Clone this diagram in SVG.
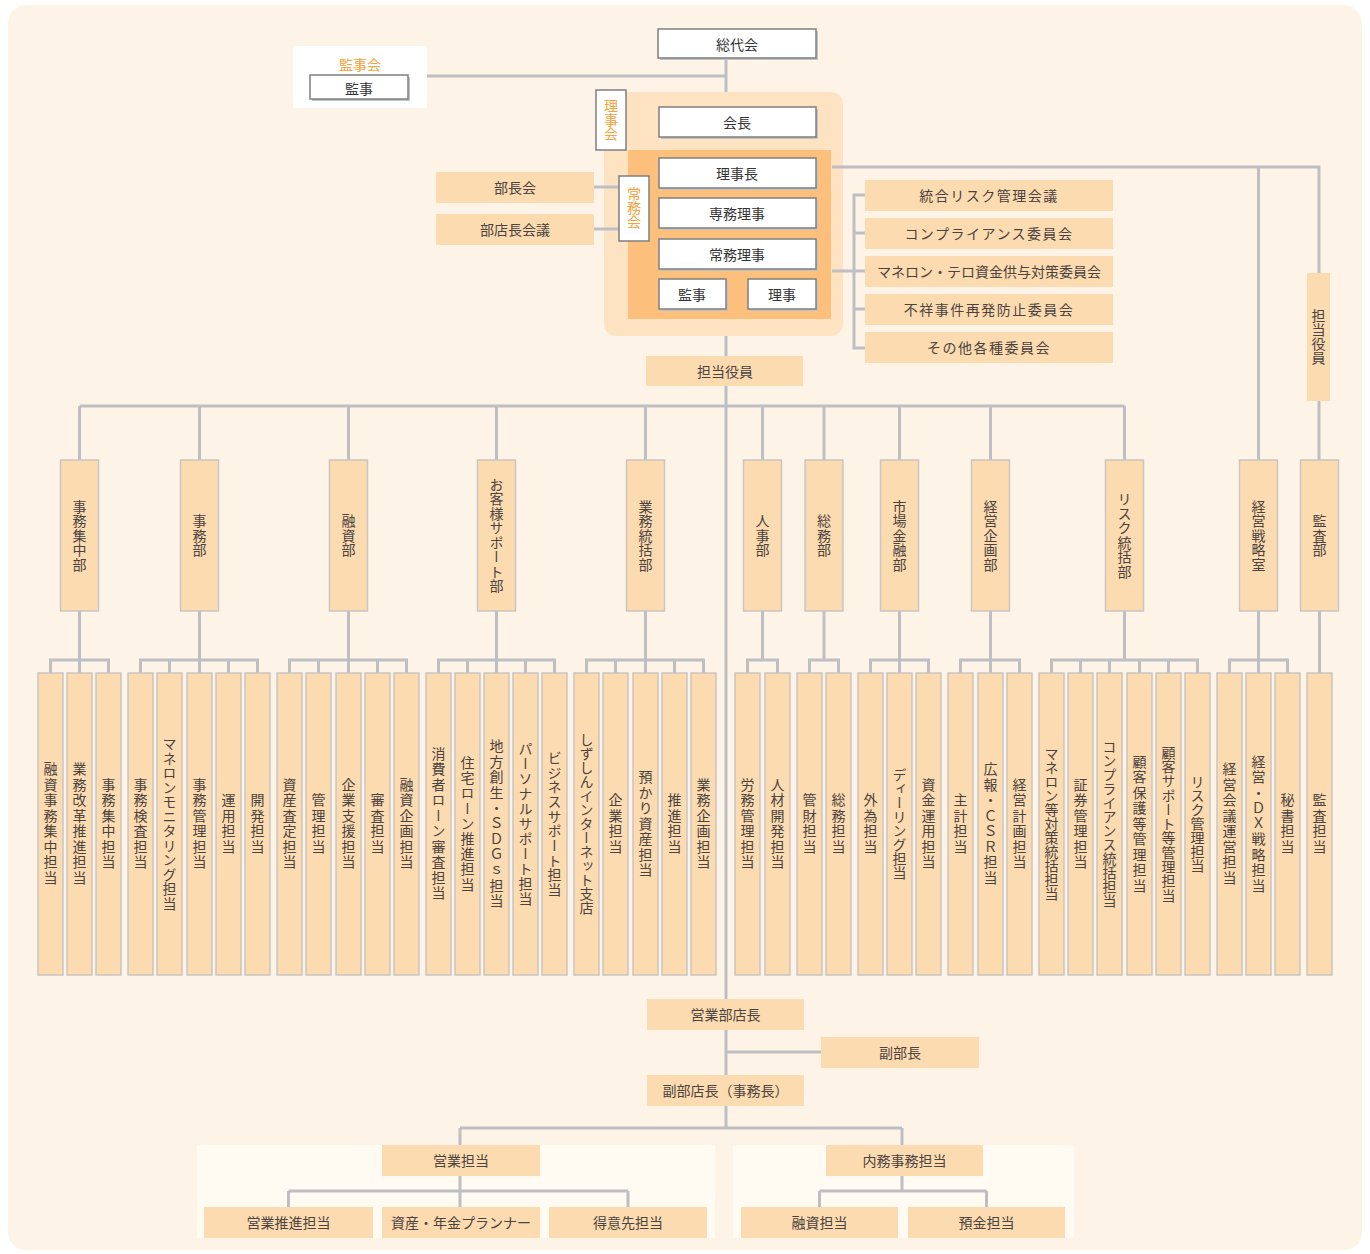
<svg xmlns="http://www.w3.org/2000/svg" width="1370" height="1254" viewBox="0 0 1370 1254">
<style>
.ln{stroke:#bebec3;stroke-width:3;fill:none}
.pk{fill:#fddbb0}
.dp{fill:#fddbb0;stroke:#c9c5c2;stroke-width:1.5}
.wb{fill:#ffffff;stroke:#7f7f7f;stroke-width:1.5}
.sh{fill:#c4c4c4}
.t{font-family:"Noto Sans CJK JP","Noto Sans",sans-serif;font-size:14px;fill:#4a4340;text-anchor:middle;dominant-baseline:central}
.w{fill:#333333}
.o{fill:#f6a23a}
.v{writing-mode:vertical-rl;letter-spacing:1.5px}
.dv{writing-mode:vertical-rl;letter-spacing:0.5px}
</style>
<rect width="1370" height="1254" fill="#ffffff"/>
<rect x="8" y="5" width="1354" height="1245" rx="18" fill="#fdf4e7"/>

<!-- panels -->
<rect x="604" y="92" width="239" height="244" rx="12" fill="#fde3c2"/>
<rect x="628" y="150" width="203" height="169" fill="#fdc07c"/>
<rect x="197" y="1145" width="518" height="93" fill="#fffaf2"/>
<rect x="733" y="1145" width="341" height="93" fill="#fffaf2"/>

<g id="connectors">
<path class="ln" d="M726,58V92M427,76H726M726,336V356M726,386V999M726,1029V1075M726,1052H821M726,1106V1128M460,1128H902M460,1128V1145M902,1128V1145"/>
<path class="ln" d="M460,1176V1191M288.5,1191H628M288.5,1191V1207M460,1191V1207M628,1191V1207M902,1176V1191M819.5,1191H986.5M819.5,1191V1207M986.5,1191V1207"/>
<path class="ln" d="M594,187H619M594,229H619"/>
<path class="ln" d="M832,271H854M866,195H854V348H866M854,233H866M854,271H866M854,309H866"/>
<path class="ln" d="M832,167H1319V273M1258.5,167V460M1319,401V460"/>
<path class="ln" d="M79.5,406H1124.5M79.5,406V460M199.5,406V460M348.5,406V460M496.5,406V460M645.5,406V460M762.5,406V460M824,406V460M899.5,406V460M990.5,406V460M1124.5,406V460"/>
<path class="ln" d="M79.5,611V660M199.5,611V660M348.5,611V660M496.5,611V660M645.5,611V660M762.5,611V660M824,611V660M899.5,611V660M990.5,611V660M1124.5,611V660M1258.5,611V660M1319.5,611V673"/>
<path class="ln" d="M50.5,673V660H108.5V673M79.5,660V673"/>
<path class="ln" d="M140.5,673V660H257.5V673M169.5,660V673M199.5,660V673M228.5,660V673"/>
<path class="ln" d="M289.5,673V660H406.5V673M318.5,660V673M348.5,660V673M377.5,660V673"/>
<path class="ln" d="M438.5,673V660H554.5V673M467.5,660V673M496.5,660V673M525.5,660V673"/>
<path class="ln" d="M586.5,673V660H703.5V673M615.5,660V673M645.5,660V673M674.5,660V673"/>
<path class="ln" d="M747.5,673V660H777.5V673"/>
<path class="ln" d="M809.5,673V660H838.5V673"/>
<path class="ln" d="M870.5,673V660H928.5V673M899.5,660V673"/>
<path class="ln" d="M960.5,673V660H1019.5V673M990.5,660V673"/>
<path class="ln" d="M1051.5,673V660H1197.5V673M1080.5,660V673M1109.5,660V673M1139.5,660V673M1168.5,660V673"/>
<path class="ln" d="M1229.5,673V660H1287.5V673M1258.5,660V673"/>
</g>

<!-- top -->
<g id="soudaikai"><rect class="sh" x="660" y="31" width="158" height="29"/><rect class="wb" x="658" y="29" width="158" height="29"/><text class="t w" x="737" y="44">総代会</text></g>
<g id="kanjikai"><rect x="293" y="46" width="134" height="62" fill="#ffffff"/><text class="t o" x="360" y="64">監事会</text><rect class="sh" x="312" y="77" width="98" height="24"/><rect class="wb" x="310" y="75" width="98" height="24"/><text class="t w" x="359" y="88">監事</text></g>
<g id="rijikai-label"><rect class="wb" x="596" y="90" width="30" height="60" stroke="#9a9a9a"/><text class="t o" x="611" y="120" style="writing-mode:vertical-rl">理事会</text></g>
<g id="kaichou"><rect class="sh" x="661" y="109" width="157" height="30"/><rect class="wb" x="659" y="107" width="157" height="30"/><text class="t w" x="737" y="122">会長</text></g>
<g id="joumukai-label"><rect class="wb" x="619" y="176" width="30" height="65" stroke="#9a9a9a"/><text class="t o" x="634" y="208" style="writing-mode:vertical-rl">常務会</text></g>
<g id="rijichou"><rect class="sh" x="661" y="160" width="157" height="30"/><rect class="wb" x="659" y="158" width="157" height="30"/><text class="t w" x="737" y="173">理事長</text></g>
<g id="senmu"><rect class="sh" x="661" y="200" width="157" height="30"/><rect class="wb" x="659" y="198" width="157" height="30"/><text class="t w" x="737" y="213">専務理事</text></g>
<g id="joumu"><rect class="sh" x="661" y="241" width="157" height="30"/><rect class="wb" x="659" y="239" width="157" height="30"/><text class="t w" x="737" y="254">常務理事</text></g>
<g id="kanji2"><rect class="sh" x="661" y="281" width="67" height="30"/><rect class="wb" x="659" y="279" width="67" height="30"/><text class="t w" x="692" y="294">監事</text></g>
<g id="riji"><rect class="sh" x="750" y="281" width="68" height="30"/><rect class="wb" x="748" y="279" width="68" height="30"/><text class="t w" x="782" y="294">理事</text></g>
<g id="buchoukai"><rect class="pk" x="436" y="172" width="158" height="31"/><text class="t" x="515" y="187">部長会</text></g>
<g id="butenchou"><rect class="pk" x="436" y="214" width="158" height="31"/><text class="t" x="515" y="229">部店長会議</text></g>

<!-- committees -->
<g id="c1"><rect class="pk" x="865" y="180" width="248" height="31"/><text class="t" x="989" y="195" letter-spacing="1.5">統合リスク管理会議</text></g>
<g id="c2"><rect class="pk" x="865" y="218" width="248" height="31"/><text class="t" x="989" y="233" letter-spacing="1.5">コンプライアンス委員会</text></g>
<g id="c3"><rect class="pk" x="865" y="256" width="248" height="31"/><text class="t" x="989" y="271">マネロン・テロ資金供与対策委員会</text></g>
<g id="c4"><rect class="pk" x="865" y="294" width="248" height="31"/><text class="t" x="989" y="309" letter-spacing="1.5">不祥事件再発防止委員会</text></g>
<g id="c5"><rect class="pk" x="865" y="332" width="248" height="31"/><text class="t" x="989" y="347" letter-spacing="1.5">その他各種委員会</text></g>

<g id="tantouyakuin"><rect class="pk" x="646" y="356" width="157" height="30"/><text class="t" x="725" y="371">担当役員</text></g>
<g id="tantouyakuin2"><rect class="pk" x="1307" y="273" width="23" height="128"/><text class="t" x="1318.5" y="337" style="writing-mode:vertical-rl">担当役員</text></g>

<!-- departments -->
<g id="d1"><rect class="dp" x="60.5" y="460" width="38" height="151"/><text class="t dv" x="79.5" y="535.5">事務集中部</text></g>
<g id="d2"><rect class="dp" x="180.5" y="460" width="38" height="151"/><text class="t dv" x="199.5" y="535.5">事務部</text></g>
<g id="d3"><rect class="dp" x="329.5" y="460" width="38" height="151"/><text class="t dv" x="348.5" y="535.5">融資部</text></g>
<g id="d4"><rect class="dp" x="477.5" y="460" width="38" height="151"/><text class="t dv" x="496.5" y="535.5">お客様サポート部</text></g>
<g id="d5"><rect class="dp" x="626.5" y="460" width="38" height="151"/><text class="t dv" x="645.5" y="535.5">業務統括部</text></g>
<g id="d6"><rect class="dp" x="743.5" y="460" width="38" height="151"/><text class="t dv" x="762.5" y="535.5">人事部</text></g>
<g id="d7"><rect class="dp" x="805" y="460" width="38" height="151"/><text class="t dv" x="824" y="535.5">総務部</text></g>
<g id="d8"><rect class="dp" x="880.5" y="460" width="38" height="151"/><text class="t dv" x="899.5" y="535.5">市場金融部</text></g>
<g id="d9"><rect class="dp" x="971.5" y="460" width="38" height="151"/><text class="t dv" x="990.5" y="535.5">経営企画部</text></g>
<g id="d10"><rect class="dp" x="1105.5" y="460" width="38" height="151"/><text class="t dv" x="1124.5" y="535.5" letter-spacing="0">リスク統括部</text></g>
<g id="d11"><rect class="dp" x="1239.5" y="460" width="38" height="151"/><text class="t dv" x="1258.5" y="535.5">経営戦略室</text></g>
<g id="d12"><rect class="dp" x="1300.5" y="460" width="38" height="151"/><text class="t dv" x="1319.5" y="535.5">監査部</text></g>

<!-- sub sections -->
<g id="s1"><rect class="dp" x="38" y="673" width="25" height="302"/><text class="t v" x="50.5" y="824">融資事務集中担当</text></g>
<g id="s2"><rect class="dp" x="67" y="673" width="25" height="302"/><text class="t v" x="79.5" y="824">業務改革推進担当</text></g>
<g id="s3"><rect class="dp" x="96" y="673" width="25" height="302"/><text class="t v" x="108.5" y="824">事務集中担当</text></g>
<g id="s4"><rect class="dp" x="128" y="673" width="25" height="302"/><text class="t v" x="140.5" y="824">事務検査担当</text></g>
<g id="s5"><rect class="dp" x="157" y="673" width="25" height="302"/><text class="t v" x="169.5" y="824" style="letter-spacing:0.5px">マネロンモニタリング担当</text></g>
<g id="s6"><rect class="dp" x="187" y="673" width="25" height="302"/><text class="t v" x="199.5" y="824">事務管理担当</text></g>
<g id="s7"><rect class="dp" x="216" y="673" width="25" height="302"/><text class="t v" x="228.5" y="824">運用担当</text></g>
<g id="s8"><rect class="dp" x="245" y="673" width="25" height="302"/><text class="t v" x="257.5" y="824">開発担当</text></g>
<g id="s9"><rect class="dp" x="277" y="673" width="25" height="302"/><text class="t v" x="289.5" y="824">資産査定担当</text></g>
<g id="s10"><rect class="dp" x="306" y="673" width="25" height="302"/><text class="t v" x="318.5" y="824">管理担当</text></g>
<g id="s11"><rect class="dp" x="336" y="673" width="25" height="302"/><text class="t v" x="348.5" y="824">企業支援担当</text></g>
<g id="s12"><rect class="dp" x="365" y="673" width="25" height="302"/><text class="t v" x="377.5" y="824">審査担当</text></g>
<g id="s13"><rect class="dp" x="394" y="673" width="25" height="302"/><text class="t v" x="406.5" y="824">融資企画担当</text></g>
<g id="s14"><rect class="dp" x="426" y="673" width="25" height="302"/><text class="t v" x="438.5" y="824">消費者ローン審査担当</text></g>
<g id="s15"><rect class="dp" x="455" y="673" width="25" height="302"/><text class="t v" x="467.5" y="824" style="letter-spacing:1.2px">住宅ローン推進担当</text></g>
<g id="s16"><rect class="dp" x="484" y="673" width="25" height="302"/><text class="t v" x="496.5" y="824">地方創生・ＳＤＧｓ担当</text></g>
<g id="s17"><rect class="dp" x="513" y="673" width="25" height="302"/><text class="t v" x="525.5" y="824" style="letter-spacing:1px">パーソナルサポート担当</text></g>
<g id="s18"><rect class="dp" x="542" y="673" width="25" height="302"/><text class="t v" x="554.5" y="824" style="letter-spacing:0.7px">ビジネスサポート担当</text></g>
<g id="s19"><rect class="dp" x="574" y="673" width="25" height="302"/><text class="t v" x="586.5" y="824" style="letter-spacing:0px">しずしんインターネット支店</text></g>
<g id="s20"><rect class="dp" x="603" y="673" width="25" height="302"/><text class="t v" x="615.5" y="824">企業担当</text></g>
<g id="s21"><rect class="dp" x="633" y="673" width="25" height="302"/><text class="t v" x="645.5" y="824">預かり資産担当</text></g>
<g id="s22"><rect class="dp" x="662" y="673" width="25" height="302"/><text class="t v" x="674.5" y="824">推進担当</text></g>
<g id="s23"><rect class="dp" x="691" y="673" width="25" height="302"/><text class="t v" x="703.5" y="824">業務企画担当</text></g>
<g id="s24"><rect class="dp" x="735" y="673" width="25" height="302"/><text class="t v" x="747.5" y="824">労務管理担当</text></g>
<g id="s25"><rect class="dp" x="765" y="673" width="25" height="302"/><text class="t v" x="777.5" y="824">人材開発担当</text></g>
<g id="s26"><rect class="dp" x="797" y="673" width="25" height="302"/><text class="t v" x="809.5" y="824">管財担当</text></g>
<g id="s27"><rect class="dp" x="826" y="673" width="25" height="302"/><text class="t v" x="838.5" y="824">総務担当</text></g>
<g id="s28"><rect class="dp" x="858" y="673" width="25" height="302"/><text class="t v" x="870.5" y="824">外為担当</text></g>
<g id="s29"><rect class="dp" x="887" y="673" width="25" height="302"/><text class="t v" x="899.5" y="824" style="letter-spacing:0px">ディーリング担当</text></g>
<g id="s30"><rect class="dp" x="916" y="673" width="25" height="302"/><text class="t v" x="928.5" y="824">資金運用担当</text></g>
<g id="s31"><rect class="dp" x="948" y="673" width="25" height="302"/><text class="t v" x="960.5" y="824">主計担当</text></g>
<g id="s32"><rect class="dp" x="978" y="673" width="25" height="302"/><text class="t v" x="990.5" y="824">広報・ＣＳＲ担当</text></g>
<g id="s33"><rect class="dp" x="1007" y="673" width="25" height="302"/><text class="t v" x="1019.5" y="824">経営計画担当</text></g>
<g id="s34"><rect class="dp" x="1039" y="673" width="25" height="302"/><text class="t v" x="1051.5" y="824" style="letter-spacing:0px">マネロン等対策統括担当</text></g>
<g id="s35"><rect class="dp" x="1068" y="673" width="25" height="302"/><text class="t v" x="1080.5" y="824">証券管理担当</text></g>
<g id="s36"><rect class="dp" x="1097" y="673" width="25" height="302"/><text class="t v" x="1109.5" y="824" style="letter-spacing:0px">コンプライアンス統括担当</text></g>
<g id="s37"><rect class="dp" x="1127" y="673" width="25" height="302"/><text class="t v" x="1139.5" y="824">顧客保護等管理担当</text></g>
<g id="s38"><rect class="dp" x="1156" y="673" width="25" height="302"/><text class="t v" x="1168.5" y="824" style="letter-spacing:0.3px">顧客サポート等管理担当</text></g>
<g id="s39"><rect class="dp" x="1185" y="673" width="25" height="302"/><text class="t v" x="1197.5" y="824" style="letter-spacing:0px">リスク管理担当</text></g>
<g id="s40"><rect class="dp" x="1217" y="673" width="25" height="302"/><text class="t v" x="1229.5" y="824">経営会議運営担当</text></g>
<g id="s41"><rect class="dp" x="1246" y="673" width="25" height="302"/><text class="t v" x="1258.5" y="824">経営・ＤＸ戦略担当</text></g>
<g id="s42"><rect class="dp" x="1275" y="673" width="25" height="302"/><text class="t v" x="1287.5" y="824">秘書担当</text></g>
<g id="s43"><rect class="dp" x="1307" y="673" width="25" height="302"/><text class="t v" x="1319.5" y="824">監査担当</text></g>

<!-- bottom -->
<g id="eigyoubutenchou"><rect class="pk" x="647" y="999" width="157" height="31"/><text class="t" x="725.5" y="1014">営業部店長</text></g>
<g id="fukubuchou"><rect class="pk" x="821" y="1037" width="158" height="31"/><text class="t" x="900" y="1052">副部長</text></g>
<g id="fukubutenchou"><rect class="pk" x="647" y="1075" width="157" height="31"/><text class="t" x="725.5" y="1090" font-size="13">副部店長（事務長）</text></g>
<g id="eigyoutantou"><rect class="pk" x="382" y="1145" width="158" height="31"/><text class="t" x="461" y="1160">営業担当</text></g>
<g id="naimu"><rect class="pk" x="826" y="1145" width="157" height="31"/><text class="t" x="904.5" y="1160">内務事務担当</text></g>
<g id="b1"><rect class="pk" x="204" y="1207" width="169" height="31"/><text class="t" x="288.5" y="1222">営業推進担当</text></g>
<g id="b2"><rect class="pk" x="382" y="1207" width="158" height="31"/><text class="t" x="461" y="1222">資産・年金プランナー</text></g>
<g id="b3"><rect class="pk" x="549" y="1207" width="158" height="31"/><text class="t" x="628" y="1222">得意先担当</text></g>
<g id="b4"><rect class="pk" x="741" y="1207" width="157" height="31"/><text class="t" x="819.5" y="1222">融資担当</text></g>
<g id="b5"><rect class="pk" x="908" y="1207" width="157" height="31"/><text class="t" x="986.5" y="1222">預金担当</text></g>
</svg>
